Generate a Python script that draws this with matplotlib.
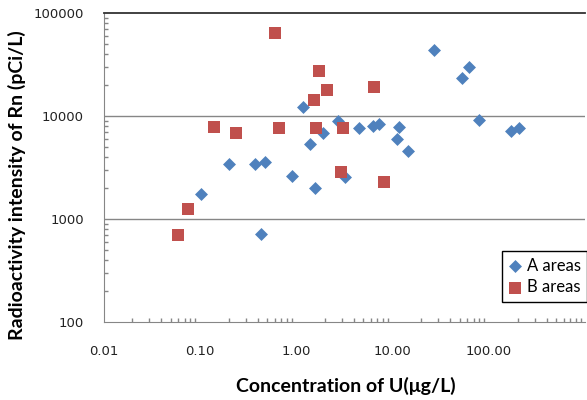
import matplotlib
matplotlib.use('Agg')
import matplotlib.pyplot as plt
from matplotlib.ticker import LogLocator, FixedLocator, NullFormatter

# A areas (blue diamonds)
a_u = [0.103, 0.20, 0.37, 0.47, 0.43, 0.91, 1.17, 1.39, 1.57, 1.92, 2.70, 3.20,
       4.53, 6.33, 7.26, 11.6, 11.1, 14.4, 27.0, 62.0, 52.5, 80.0, 169, 206]
a_rn = [1730, 3420, 3420, 3560, 713, 2610, 12200, 5300, 2000, 6900, 8950, 2570,
        7600, 8000, 8300, 7800, 6000, 4600, 43600, 29800, 23300, 9100, 7200, 7650]

# B areas (red squares)
b_u = [0.059, 0.076, 0.142, 0.236, 0.60, 0.66, 1.52, 1.62, 1.73, 2.09, 2.95, 3.05, 6.49, 8.12]
b_rn = [690, 1250, 7900, 6800, 64300, 7650, 14200, 7650, 27300, 18000, 2880, 7650, 19000, 2270]

x_ticks = [0.01, 0.1, 1, 10, 100]
x_labels = ['0.01', '0.10', '1.00', '10.00', '100.00']
y_ticks = [100, 1000, 10000, 100000]
y_labels = ['100', '1000', '10000', '100000']

W, H = 587, 400
fig = plt.figure(figsize=(W / 100, H / 100), dpi=100)
fig.patch.set_facecolor('white')
ax = fig.add_axes([103.5 / W, 1 - 321.7 / H, 481.5 / W, 308.4 / H])

ax.set_xscale('log')
ax.set_yscale('log')
ax.set_xlim(0.01, 1000)
ax.set_ylim(100, 100000)

grid_c = '#868686'
for yv in y_ticks[1:-1]:
    ax.axhline(yv, color=grid_c, lw=1.0, zorder=1)

ax.scatter(a_u, a_rn, marker='D', s=6.6 ** 2, color='#4F81BD', linewidths=0,
           label='A areas', zorder=3)
ax.scatter(b_u, b_rn, marker='s', s=8.2 ** 2, color='#C0504D', linewidths=0,
           label='B areas', zorder=3)

ax.spines['right'].set_visible(False)
ax.spines['left'].set_color(grid_c)
ax.spines['bottom'].set_color(grid_c)
ax.spines['top'].set_color('#333333')
ax.spines['top'].set_linewidth(1.3)

ax.xaxis.set_major_locator(FixedLocator(x_ticks))
ax.set_xticklabels(x_labels)
ax.yaxis.set_major_locator(FixedLocator(y_ticks))
ax.set_yticklabels(y_labels)
ax.xaxis.set_minor_locator(LogLocator(base=10, subs=range(2, 10)))
ax.yaxis.set_minor_locator(LogLocator(base=10, subs=range(2, 10)))
ax.xaxis.set_minor_formatter(NullFormatter())
ax.yaxis.set_minor_formatter(NullFormatter())

ax.tick_params(which='both', direction='in', color=grid_c, width=1.0)
ax.tick_params(which='major', length=0)
ax.tick_params(which='minor', length=3)
ax.tick_params(axis='x', which='major', pad=17, labelsize=9.5, labelcolor='#222222')
ax.tick_params(axis='y', which='major', pad=14, labelsize=9.5, labelcolor='#222222')

fig.text(346 / W, 1 - 386 / H, 'Concentration of U(\u03bcg/L)', ha='center', va='center',
         fontsize=14, fontweight='bold', family=['Lato', 'DejaVu Sans'])
fig.text(17 / W, 1 - 185 / H, 'Radioactivity intensity of Rn (pCi/L)', ha='center',
         va='center', rotation=90, fontsize=14, fontweight='bold',
         family=['Lato', 'DejaVu Sans'])

leg = ax.legend(loc='upper left', bbox_to_anchor=(501.7 / W, 1 - 251 / H),
                bbox_transform=fig.transFigure, frameon=True, fancybox=False,
                edgecolor='black', framealpha=1, borderpad=0.4, handlelength=0.8,
                handletextpad=0.3, labelspacing=0.35, borderaxespad=0,
                prop={'family': ['Lato', 'DejaVu Sans'], 'size': 12})
leg.get_frame().set_linewidth(1.0)

fig.savefig('out.png', dpi=100)
